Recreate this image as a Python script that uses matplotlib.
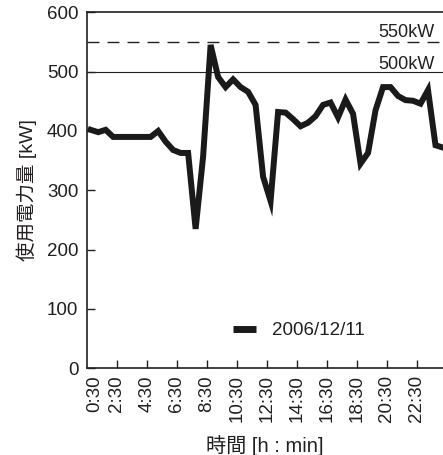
import matplotlib
matplotlib.use('Agg')
import matplotlib.pyplot as plt
import matplotlib.transforms as mtransforms
import numpy as np

plt.rcParams['font.family'] = ['Liberation Sans', 'Noto Sans CJK JP']

# 30分ごとの使用電力量 (0:30 ~ 24:00)
times = ['%d:%02d' % divmod(m, 60) for m in range(30, 24 * 60 + 1, 30)]
power_kw = [402, 398, 402, 390, 390, 390, 390, 390, 390, 400,
            382, 368, 363, 363, 235, 357, 545, 491, 474, 487,
            474, 466, 444, 323, 282, 432, 431, 420, 408, 414,
            425, 444, 448, 423, 453, 429, 345, 363, 435, 474,
            474, 459, 452, 451, 446, 469, 376, 372]
series_label = '2006/12/11'

limits = [550, 500]
limit_labels = ['550kW', '500kW']
limit_styles = ['dashed', 'solid']

y_ticks = [0, 100, 200, 300, 400, 500, 600]

ink = '#231f20'
fs = 13.5

fig = plt.figure(figsize=(4.43, 4.55), dpi=100)
ax = fig.add_axes([0.1957, 0.1905, 0.8043, 0.7824])

x = np.arange(len(power_kw))
line, = ax.plot(x, power_kw, color='#1a1a1a', lw=4.3,
                solid_joinstyle='miter', label=series_label, zorder=3)

# 基準線
blend = mtransforms.blended_transform_factory(ax.transAxes, ax.transData)
offsets = [8, 5]
for val, txt, st, off in zip(limits, limit_labels, limit_styles, offsets):
    if st == 'dashed':
        ax.axhline(val, color=ink, lw=1.0, ls=(0, (8.6, 5.8)), zorder=2)
    else:
        ax.axhline(val, color=ink, lw=0.8, zorder=2)
    ax.text(0.977, val + off, txt, transform=blend, ha='right',
            va='baseline', fontsize=13, color=ink)

ax.set_xlim(-0.53, 47.0)
ax.set_ylim(0, 600)
ax.set_yticks(y_ticks)

# 2時間ごとの目盛り (区切り位置)
major_idx = list(range(4, 45, 4))
ax.set_xticks([i - 0.5 for i in major_idx])
ax.set_xticklabels([times[i] for i in major_idx], rotation=90)
ax.set_xticks([0.55], labels=[times[0]], minor=True, rotation=90)

ax.tick_params(axis='both', which='major', direction='in', length=5.8,
               width=1.0, colors=ink, labelsize=fs)
ax.tick_params(axis='x', which='major', pad=5)
ax.tick_params(axis='y', which='major', pad=6)
ax.tick_params(axis='x', which='minor', length=0, pad=5, labelsize=fs,
               colors=ink)

for side in ['left', 'bottom', 'top']:
    ax.spines[side].set_color(ink)
    ax.spines[side].set_linewidth(1.2)
ax.spines['right'].set_visible(False)

ax.set_ylabel('使用電力量 [kW]', fontsize=14, color=ink, labelpad=7)
ax.set_xlabel('時間 [h : min]', fontsize=14.5, color=ink, labelpad=9)

leg = ax.legend(handles=[line], loc='center left',
                bbox_to_anchor=(0.363, 0.106), frameon=False, fontsize=fs,
                handlelength=1.25, handletextpad=0.85, labelcolor=ink)
for h in leg.legend_handles:
    h.set_solid_capstyle('butt')
    h.set_linewidth(5)

fig.savefig('out.png', dpi=100)
